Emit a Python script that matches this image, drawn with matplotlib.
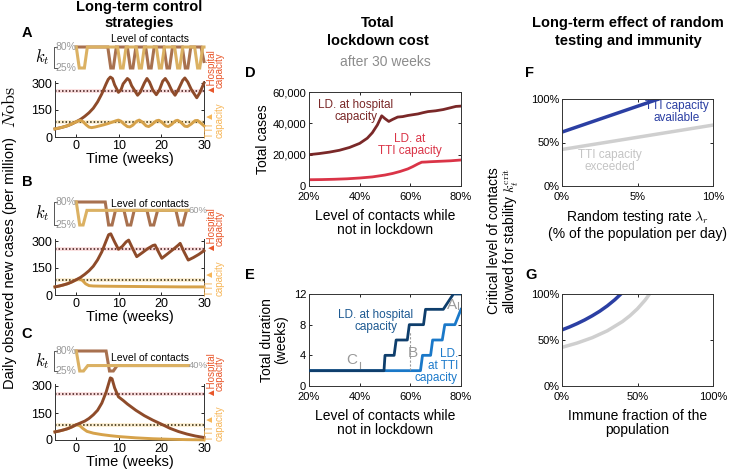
import matplotlib
matplotlib.use('Agg')
import matplotlib.pyplot as plt

plt.rcParams['font.family'] = ['Liberation Sans', 'DejaVu Sans']
plt.rcParams['mathtext.fontset'] = 'cm'

# ---------------- data ----------------
hosp_cap = 255
tti_cap = 85

# A: 80% contacts outside lockdown
A_hosp_w = [-5, -4, -3, -2, -1, 0, 1, 2, 3, 4, 5, 6, 7, 7.5, 8, 8.5, 9, 9.9, 10.5, 11, 12, 12.5, 13,
            14.4, 15, 16, 16.6, 17.2, 18, 18.8, 19.5, 20.3, 20.9, 21.6, 22.5, 23.2, 24, 25, 25.5,
            26.2, 27, 28.3, 29, 30]
A_hosp_c = [45, 50, 56, 63, 73, 85, 98, 115, 135, 160, 195, 240, 295, 320, 333, 325, 290, 248, 262, 295,
            325, 315, 285, 232, 248, 300, 325, 305, 260, 235, 260, 310, 325, 300, 255, 232, 265, 315, 328,
            305, 265, 218, 245, 300]
A_tti_w = [-5, -4, -3, -2, -1, 0, 0.5, 1, 1.6, 2.3, 3, 3.6, 4.5, 5.5, 6.5, 7.5, 8.5, 9.3, 9.9, 10.5, 11.2,
           12, 12.6, 13.3, 14.2, 14.8, 15.4, 16.4, 17, 17.8, 18.8, 19.4, 20, 21, 21.6, 22.4, 23.3, 23.8,
           24.5, 25.5, 26.1, 27, 27.9, 28.5, 29.2, 30]
A_tti_c = [45, 50, 56, 63, 73, 85, 90, 92, 85, 68, 55, 52, 56, 62, 68, 75, 83, 90, 94, 88, 72,
           58, 56, 66, 88, 94, 85, 62, 58, 70, 90, 93, 84, 62, 58, 70, 90, 93,
           83, 60, 58, 72, 91, 92, 78, 62]
A_kt_hosp_w = [0, 7.4, 8.1, 8.7, 9.4, 12.0, 12.7, 13.3, 14.0, 16.3, 17.0, 17.6, 18.3, 20.6, 21.3, 21.9, 22.6,
               24.9, 25.6, 26.2, 26.9, 29.3, 30]
A_kt_hosp = [0.8, 0.8, 0.25, 0.25, 0.8, 0.8, 0.25, 0.25, 0.8, 0.8, 0.25, 0.25, 0.8, 0.8, 0.25, 0.25, 0.8,
             0.8, 0.25, 0.25, 0.8, 0.8, 0.42]
A_kt_tti_w = [0, 0.7, 1.9, 2.6, 9.7, 10.4, 11.0, 11.7, 14.1, 14.8, 15.3, 16.0, 18.8, 19.5, 20.0, 20.7,
              23.1, 23.8, 24.3, 25.0, 27.8, 28.5, 29.0, 29.7, 30]
A_kt_tti = [0.8, 0.25, 0.25, 0.8, 0.8, 0.25, 0.25, 0.8, 0.8, 0.25, 0.25, 0.8, 0.8, 0.25, 0.25, 0.8,
            0.8, 0.25, 0.25, 0.8, 0.8, 0.25, 0.25, 0.8, 0.8]

# B: 60% contacts outside lockdown
B_hosp_w = [-5, -4, -3, -2, -1, 0, 1, 2, 3, 4, 5, 6, 7, 7.6, 8.1, 9.0, 9.9, 10.8, 11.7, 12.3, 13.2, 14.2,
            15.5, 16.8, 18.0, 18.5, 19.3, 20.1, 21.5, 23.0, 24.0, 24.4, 25.3, 26.3, 27.5, 28.8, 30]
B_hosp_c = [45, 50, 56, 63, 73, 85, 98, 115, 135, 160, 195, 240, 300, 335, 340, 295, 254, 270, 295, 305,
            260, 213, 235, 258, 275, 278, 240, 204, 230, 258, 278, 287, 240, 194, 208, 226, 246]
B_tti_w = [-5, -4, -3, -2, -1, 0, 0.7, 1.4, 2.2, 3, 4, 6, 10, 15, 20, 25, 30]
B_tti_c = [45, 50, 56, 63, 73, 85, 90, 82, 62, 52, 50, 49, 48, 47, 46, 45, 45]
B_kt_hosp_w = [0, 6.8, 7.6, 8.4, 9.2, 11.2, 12.0, 12.8, 13.6, 16.6, 17.4, 18.2, 19.1, 23.4, 24.2, 25.0, 25.9, 26.3]
B_kt_hosp = [0.8, 0.8, 0.25, 0.25, 0.6, 0.6, 0.25, 0.25, 0.6, 0.6, 0.25, 0.25, 0.6, 0.6, 0.25, 0.25, 0.6, 0.6]
B_kt_tti_w = [0, 0.8, 1.6, 2.5, 26.3]
B_kt_tti = [0.8, 0.25, 0.25, 0.6, 0.6]

# C: 40% contacts outside lockdown
C_hosp_w = [-5, -4, -3, -2, -1, 0, 1, 2, 3, 4, 5, 6, 7, 7.5, 8, 8.4, 9, 9.9, 11, 12, 14, 16, 18, 20, 22, 24,
            26, 28, 30]
C_hosp_c = [45, 50, 56, 63, 73, 85, 95, 105, 120, 140, 165, 205, 265, 305, 345, 340, 290, 240, 220, 200,
            165, 135, 110, 88, 65, 47, 33, 22, 14]
C_tti_w = [-5, -4, -3, -2, -1, 0, 0.8, 1.5, 2.5, 4, 6, 8, 10, 14, 18, 22, 26, 30]
C_tti_c = [45, 50, 56, 63, 73, 85, 80, 65, 48, 38, 30, 24, 19, 12, 7, 4, 2, 1]
C_kt_hosp_w = [0, 7.0, 7.8, 8.7, 9.6, 26.3]
C_kt_hosp = [0.8, 0.8, 0.25, 0.25, 0.4, 0.4]
C_kt_tti_w = [0, 0.8, 1.7, 2.7, 26.3]
C_kt_tti = [0.8, 0.25, 0.25, 0.4, 0.4]

# D: total cases after 30 weeks
D_contacts_h = [20, 24, 28, 32, 36, 40, 43, 45, 47, 48.7, 50, 51.5, 53, 55, 57, 59, 61, 63, 65, 67, 70, 73, 76, 78, 80]
D_cases_h = [20000, 20700, 21600, 22800, 24600, 27200, 30500, 34000, 39000, 44800, 43000, 41200, 42500,
             44000, 44300, 45000, 45500, 46000, 46800, 47500, 48000, 48800, 50000, 50800, 51000]
D_contacts_t = [20, 25, 30, 35, 40, 45, 50, 53, 56, 59, 61, 63, 64.5, 66, 68, 72, 76, 80]
D_cases_t = [4000, 4100, 4300, 4600, 5100, 5800, 7000, 8000, 9300, 10900, 12400, 14100, 15200, 15300,
             15500, 15800, 16100, 16600]

# E: total lockdown duration
E_contacts_h = [20, 49.6, 50.0, 53.6, 54.4, 58.8, 59.6, 65.2, 66.0, 73.0, 77.0, 80]
E_weeks_h = [2, 2, 4, 4, 6, 6, 8, 8, 10, 10, 12, 12]
E_contacts_t = [20, 64.0, 64.8, 68.0, 68.8, 72.6, 73.6, 77.6, 80]
E_weeks_t = [2, 2, 4, 4, 6, 6, 8, 8, 10]

# F: critical contacts vs random testing rate
F_rate_avail = [0, 6.4]
F_crit_avail = [62, 100]
F_rate_exc = [0, 10]
F_crit_exc = [42, 70]

# G: critical contacts vs immune fraction
G_imm_avail = [0, 5, 10, 15, 20, 25, 30, 35, 39]
G_crit_avail = [61, 64.2, 67.8, 71.8, 76.3, 81.3, 87.1, 93.8, 100]
G_imm_exc = [0, 10, 20, 30, 40, 45, 50, 55, 58]
G_crit_exc = [42, 46.7, 52.5, 60, 70, 76.4, 84, 93.3, 100]

# ---------------- styling ----------------
brown = '#8E4B2A'
gold = '#D6A24A'
kt_brown = '#A8714F'
kt_gold = '#DBB163'
hosp_txt = '#E8562A'
tti_txt = '#F6B658'
grey = '#9A9A9A'

W, H = 735, 472
fig = plt.figure(figsize=(W / 100, H / 100), dpi=100)


def add_ax(l, t, r, b):
    return fig.add_axes([l / W, 1 - b / H, (r - l) / W, (b - t) / H])


def ftext(x, y, s, **kw):
    fig.text(x / W, 1 - y / H, s, **kw)


def box_style(ax, lsize=7.5):
    for s in ax.spines.values():
        s.set_linewidth(0.7)
        s.set_color('#333333')
    ax.tick_params(direction='in', length=2.5, width=0.6, top=True, right=True,
                   labelsize=lsize, pad=2)
    ax.tick_params(axis='x', pad=4)


def strategy_panel(zero_y, k_top, k_bot, hw, hc, tw, tc, khw, kh, ktw, kt, end_label, gold_on_top):
    ax = add_ax(55, zero_y - 310 * 0.18, 204, zero_y)
    ax.set_xlim(-5, 30)
    ax.set_ylim(0, 310)
    ax.axhspan(hosp_cap - 10, hosp_cap + 10, color='#FBE1E1', lw=0, zorder=0)
    ax.axhspan(tti_cap - 10, tti_cap + 10, color='#FDF0D6', lw=0, zorder=0)
    ax.axhline(hosp_cap, color='#3A1010', ls=(0, (1, 1.3)), lw=1.1, zorder=1)
    ax.axhline(tti_cap, color='#2A2000', ls=(0, (1, 1.3)), lw=1.1, zorder=1)
    if gold_on_top:
        ax.plot(hw, hc, color=brown, lw=2.1, clip_on=False, zorder=3)
        ax.plot(tw, tc, color=gold, lw=2.1, clip_on=False, zorder=4)
    else:
        ax.plot(tw, tc, color=gold, lw=2.1, clip_on=False, zorder=3)
        ax.plot(hw, hc, color=brown, lw=2.1, clip_on=False, zorder=4)
    ax.spines['top'].set_visible(False)
    box_style(ax, 9)
    ax.tick_params(top=False)
    ax.tick_params(axis='x', pad=2)
    ax.set_xticks([0, 10, 20, 30])
    ax.set_yticks([0, 150, 300])
    ax.set_xlabel('Time (weeks)', fontsize=10.5, labelpad=0)

    axk = add_ax(55, k_top, 204, k_bot)
    axk.set_xlim(-5, 30)
    axk.set_ylim(0.25, 0.8)
    axk.axis('off')
    axk.plot(khw, kh, color=kt_brown, lw=2.2, clip_on=False, solid_joinstyle='miter')
    axk.plot(ktw, kt, color=kt_gold, lw=2.2, clip_on=False, solid_joinstyle='miter')
    axk.plot([-4.6, -5.2, -5.2, -4.6], [0.8, 0.8, 0.25, 0.25], color='#555555', lw=0.7, clip_on=False)
    axk.text(-4.9, 0.8, '80%', color=grey, fontsize=7.5, ha='left', va='center')
    axk.text(-4.9, 0.25, '25%', color=grey, fontsize=7.5, ha='left', va='center')
    axk.text(-7.9, 0.525, '$k_t$', fontsize=12, ha='center', va='center')
    if end_label:
        axk.text(26.4, float(end_label.strip('%')) / 100, end_label, color=grey, fontsize=6.8,
                 ha='left', va='center')

    # capacity labels on the right
    ftext(210.5, zero_y - 44, '▲Hospital', rotation=90, ha='center', va='bottom', color=hosp_txt, fontsize=7)
    ftext(219.5, zero_y - 49, 'capacity', rotation=90, ha='center', va='bottom', color=hosp_txt, fontsize=7)
    ftext(210.5, zero_y + 1, 'TTI ▲', rotation=90, ha='center', va='bottom', color=tti_txt, fontsize=7)
    ftext(219.5, zero_y + 1, 'capacity', rotation=90, ha='center', va='bottom', color=tti_txt, fontsize=7)
    return ax


strategy_panel(137, 47, 68, A_hosp_w, A_hosp_c, A_tti_w, A_tti_c,
               A_kt_hosp_w, A_kt_hosp, A_kt_tti_w, A_kt_tti, None, True)
strategy_panel(295, 202, 225, B_hosp_w, B_hosp_c, B_tti_w, B_tti_c,
               B_kt_hosp_w, B_kt_hosp, B_kt_tti_w, B_kt_tti, '60%', False)
strategy_panel(440, 351, 371, C_hosp_w, C_hosp_c, C_tti_w, C_tti_c,
               C_kt_hosp_w, C_kt_hosp, C_kt_tti_w, C_kt_tti, '40%', False)

for y in (39, 204, 358):
    ftext(150, y, 'Level of contacts', fontsize=7.5, ha='center', va='center')

ftext(9, 107, r'$\hat{N}\mathrm{obs}$', rotation=90, fontsize=13, ha='center', va='center')
ftext(10, 263, 'Daily observed new cases (per million)', rotation=90, fontsize=10.5, ha='center', va='center')

# ---------------- D ----------------
axD = add_ax(309, 92, 461, 186)
axD.plot(D_contacts_h, D_cases_h, color='#7A2828', lw=2)
axD.plot(D_contacts_t, D_cases_t, color='#DA3447', lw=2)
axD.set_xlim(20, 80)
axD.set_ylim(0, 60000)
axD.set_xticks([20, 40, 60, 80])
axD.set_xticklabels(['20%', '40%', '60%', '80%'])
axD.set_yticks([0, 20000, 40000, 60000])
axD.set_yticklabels(['0', '20,000', '40,000', '60,000'])
box_style(axD, 8)
axD.set_ylabel('Total cases', fontsize=10, labelpad=2)
axD.set_xlabel('Level of contacts while\nnot in lockdown', fontsize=10, labelpad=5, linespacing=1.05)
ftext(356, 111, 'LD. at hospital\ncapacity', color='#7A2828', fontsize=8.5, ha='center', va='center',
      linespacing=1.0)
ftext(410, 145, 'LD. at\nTTI capacity', color='#DA3447', fontsize=8.5, ha='center', va='center',
      linespacing=1.05)

# ---------------- E ----------------
axE = add_ax(309, 294, 461, 386)
axE.plot(E_contacts_t, E_weeks_t, color='#1A78C8', lw=2, zorder=2)
axE.plot(E_contacts_h, E_weeks_h, color='#0E3E6C', lw=2, zorder=3)
axE.set_xlim(20, 80)
axE.set_ylim(0, 12)
axE.set_xticks([20, 40, 60, 80])
axE.set_xticklabels(['20%', '40%', '60%', '80%'])
axE.set_yticks([0, 4, 8, 12])
box_style(axE, 8)
axE.set_ylabel('Total duration\n(weeks)', fontsize=10, labelpad=4, linespacing=1.05)
axE.set_xlabel('Level of contacts while\nnot in lockdown', fontsize=10, labelpad=5, linespacing=1.05)
axE.plot([60, 60], [2.1, 7.0], color=grey, lw=0.8, ls=(0, (2, 1.5)))
axE.plot([40, 40], [2.4, 3.1], color=grey, lw=0.8)
axE.plot([79, 79], [10.0, 11.0], color=grey, lw=0.8)
axE.text(38.9, 2.5, 'C', color=grey, fontsize=11, ha='right', va='bottom')
axE.text(58.8, 3.4, 'B', color=grey, fontsize=11, ha='left', va='bottom')
axE.text(78.3, 9.7, 'A', color=grey, fontsize=11, ha='right', va='bottom')
ftext(376, 321, 'LD. at hospital\ncapacity', color='#1E5A92', fontsize=8.5, ha='center', va='center',
      linespacing=1.0)
ftext(458, 366, 'LD.\nat TTI\ncapacity', color='#1C7ACB', fontsize=8.5, ha='right', va='center',
      multialignment='right', linespacing=0.95)

# ---------------- F ----------------
blue = '#2B3FA3'
lgrey = '#CFCFCF'
axF = add_ax(562, 99, 713, 186)
axF.plot(F_rate_exc, F_crit_exc, color=lgrey, lw=2.5)
axF.plot(F_rate_avail, F_crit_avail, color=blue, lw=2.5)
axF.set_xlim(0, 10)
axF.set_ylim(0, 100)
axF.set_xticks([0, 5, 10])
axF.set_xticklabels(['0%', '5%', '10%'])
axF.set_yticks([0, 50, 100])
axF.set_yticklabels(['0%', '50%', '100%'])
box_style(axF, 8)
axF.set_xlabel('Random testing rate $\\lambda_r$\n(% of the population per day)', fontsize=10,
               labelpad=5, linespacing=1.05)
ftext(677, 112, 'TTI capacity\navailable', color=blue, fontsize=8.5, ha='center', va='center', linespacing=1.0)
ftext(610, 161, 'TTI capacity\nexceeded', color='#C4C4C4', fontsize=8.5, ha='center', va='center',
      linespacing=1.0)

# ---------------- G ----------------
axG = add_ax(562, 294, 713, 386)
axG.plot(G_imm_exc, G_crit_exc, color=lgrey, lw=2.5)
axG.plot(G_imm_avail, G_crit_avail, color=blue, lw=2.5)
axG.set_xlim(0, 100)
axG.set_ylim(0, 100)
axG.set_xticks([0, 50, 100])
axG.set_xticklabels(['0%', '50%', '100%'])
axG.set_yticks([0, 50, 100])
axG.set_yticklabels(['0%', '50%', '100%'])
box_style(axG, 8)
axG.set_xlabel('Immune fraction of the\npopulation', fontsize=10, labelpad=5, linespacing=1.05)

ftext(504, 241, 'Critical level of contacts\nallowed for stability $k_t^{\\rm crit}$', rotation=90,
      fontsize=10, ha='center', va='center', linespacing=1.05)

# ---------------- titles & letters ----------------
ftext(139, 15, 'Long-term control\nstrategies', fontsize=10.5, fontweight='bold', ha='center', va='center',
      linespacing=1.1)
ftext(378, 32, 'Total\nlockdown cost', fontsize=10.5, fontweight='bold', ha='center', va='center',
      linespacing=1.3)
ftext(385, 62, 'after 30 weeks', fontsize=10, color='#8C8C8C', ha='center', va='center')
ftext(628, 32, 'Long-term effect of random\ntesting and immunity', fontsize=10.5, fontweight='bold',
      ha='center', va='center', linespacing=1.3)

for lab, x, y in [('A', 27, 33), ('B', 27, 182), ('C', 27, 334), ('D', 250, 73), ('E', 250, 275),
                  ('F', 530, 73), ('G', 531, 275)]:
    ftext(x, y, lab, fontsize=10.5, fontweight='bold', ha='center', va='center')

fig.savefig('out.png', dpi=100)
